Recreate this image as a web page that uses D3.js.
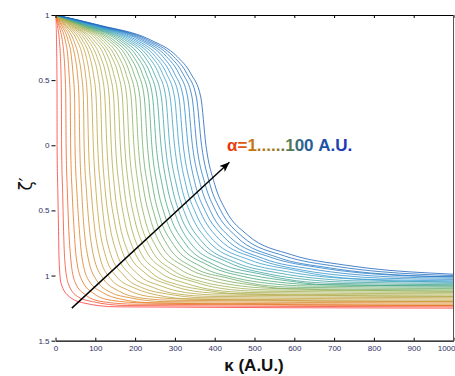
<!DOCTYPE html>
<html><head><meta charset="utf-8">
<script src="https://cdn.jsdelivr.net/npm/d3@7"></script>
<style>html,body{margin:0;padding:0;background:#fff;overflow:hidden}</style>
</head><body><svg id="c" width="455" height="376"></svg>
<script>
// ---- data ----
const alphas = [1,4,7,10,13,16,19,22,25,28,31,34,37,40,43,46,49,52,55,58,61,64,67,70,73,76,79,82,85,88,91,94,97,100];
// zeta levels along the upper (knee + drop) part of every curve
const topZeta = [1, 0.92, 0.81, 0.68, 0.55, 0.37, 0];
// kappa where each curve reaches the topZeta levels
const topKappa = [
 [0,1.2,2.5,3.2,3.6,3.9,4],[0,4.6,9.6,12.4,13.8,14.8,15.3],[0,8,16.8,21.6,24,25.8,26.7],[0,11.4,24,31,34,37,38],
 [0,15,31,40,44,48,49],[0,18,38,49,55,59,61],[0,22,45,58,65,70,72],[0,25,53,68,75,80,83],
 [0,28,60,77,85,91,95],[0,32,67,86,95,102,106],[0,35,74,95,106,113,117],[0,39,81,104,116,124,129],
 [0,42,88,113,126,135,140],[0,45,95,123,136,146,151],[0,49,103,132,146,157,163],[0,52,110,141,157,168,174],
 [0,56,117,150,167,179,185],[0,59,124,159,177,190,197],[0,62,131,169,187,201,208],[0,66,138,178,197,212,219],
 [0,69,145,187,208,223,231],[0,73,153,196,218,234,242],[0,76,160,205,228,244,253],[0,79,167,214,238,255,265],
 [0,83,174,224,248,266,276],[0,86,181,233,259,277,287],[0,90,188,242,269,288,299],[0,93,195,251,279,299,310],
 [0,96,202,260,289,310,321],[0,100,210,270,299,321,333],[0,103,217,279,310,332,344],[0,107,224,288,320,343,355],
 [0,110,231,297,330,354,367],[0,113,238,306,340,365,378]
];
// lower part (bend + tail): kappa / zeta pairs per curve
const tailKappa = [
 [6,7.5,9,14,34,70,154,1000],[18,20,23,32,55,93,178,1000],[30,33,38,49,76,117,202,1000],[42,46,52,67,97,140,225,1000],
 [54,59,66,84,118,163,249,1000],[66,71,81,102,139,186,273,1000],[78,84,95,119,160,210,297,1000],[90,97,110,137,181,233,320,1000],
 [102,109,124,154,202,256,344,1000],[114,122,138,172,223,279,368,1000],[125,135,153,190,244,303,392,1000],[137,148,167,207,265,326,415,1000],
 [149,160,181,225,286,349,439,1000],[161,173,196,242,307,373,463,1000],[173,186,210,260,328,396,487,1000],[185,199,224,277,350,419,510,1000],
 [197,211,239,295,371,442,534,1000],[209,224,253,312,392,466,558,1000],[221,237,268,330,413,489,582,1000],[233,250,282,348,434,512,605,1000],
 [245,262,296,365,455,535,629,1000],[257,275,311,383,476,559,653,1000],[269,288,325,400,497,582,677,1000],[281,301,339,418,518,605,700,1000],
 [293,313,354,435,539,629,724,1000],[305,326,368,453,560,652,748,1000],[316,339,382,470,581,675,772,1000],[328,352,397,488,602,698,795,1000],
 [340,364,411,505,623,722,819,1000],[352,377,425,523,644,745,843,1000],[364,390,440,541,665,768,867,1000],[376,402,454,558,686,791,890,1000],
 [388,415,469,576,707,815,914,1000],[400,428,483,593,728,838,938,1000]
];
const tailZeta = [
 [-0.38,-0.63,-0.88,-1.06,-1.16,-1.21,-1.24,-1.25],[-0.37,-0.62,-0.87,-1.06,-1.16,-1.20,-1.23,-1.24],
 [-0.37,-0.62,-0.86,-1.05,-1.15,-1.20,-1.22,-1.23],[-0.37,-0.61,-0.86,-1.04,-1.14,-1.19,-1.21,-1.23],
 [-0.37,-0.61,-0.85,-1.04,-1.13,-1.18,-1.21,-1.22],[-0.36,-0.61,-0.85,-1.03,-1.13,-1.17,-1.20,-1.21],
 [-0.36,-0.60,-0.84,-1.02,-1.12,-1.17,-1.19,-1.20],[-0.36,-0.60,-0.84,-1.02,-1.11,-1.16,-1.18,-1.20],
 [-0.36,-0.59,-0.83,-1.01,-1.10,-1.15,-1.18,-1.19],[-0.35,-0.59,-0.83,-1.00,-1.10,-1.14,-1.17,-1.18],
 [-0.35,-0.59,-0.82,-1.00,-1.09,-1.14,-1.16,-1.17],[-0.35,-0.58,-0.81,-0.99,-1.08,-1.13,-1.15,-1.16],
 [-0.35,-0.58,-0.81,-0.98,-1.07,-1.12,-1.14,-1.16],[-0.34,-0.57,-0.80,-0.98,-1.07,-1.11,-1.14,-1.15],
 [-0.34,-0.57,-0.80,-0.97,-1.06,-1.11,-1.13,-1.14],[-0.34,-0.57,-0.79,-0.96,-1.05,-1.10,-1.12,-1.13],
 [-0.34,-0.56,-0.79,-0.96,-1.05,-1.09,-1.11,-1.12],[-0.33,-0.56,-0.78,-0.95,-1.04,-1.08,-1.10,-1.12],
 [-0.33,-0.55,-0.78,-0.94,-1.03,-1.07,-1.10,-1.11],[-0.33,-0.55,-0.77,-0.94,-1.02,-1.07,-1.09,-1.10],
 [-0.33,-0.55,-0.76,-0.93,-1.02,-1.06,-1.08,-1.09],[-0.33,-0.54,-0.76,-0.92,-1.01,-1.05,-1.07,-1.08],
 [-0.32,-0.54,-0.75,-0.92,-1.00,-1.04,-1.07,-1.08],[-0.32,-0.53,-0.75,-0.91,-0.99,-1.04,-1.06,-1.07],
 [-0.32,-0.53,-0.74,-0.90,-0.99,-1.03,-1.05,-1.06],[-0.32,-0.53,-0.74,-0.90,-0.98,-1.02,-1.04,-1.05],
 [-0.31,-0.52,-0.73,-0.89,-0.97,-1.01,-1.03,-1.05],[-0.31,-0.52,-0.73,-0.88,-0.96,-1.01,-1.03,-1.04],
 [-0.31,-0.51,-0.72,-0.87,-0.96,-1.00,-1.02,-1.03],[-0.31,-0.51,-0.71,-0.87,-0.95,-0.99,-1.01,-1.02],
 [-0.30,-0.51,-0.71,-0.86,-0.94,-0.98,-1.00,-1.01],[-0.30,-0.50,-0.70,-0.86,-0.94,-0.98,-1.00,-1.01],
 [-0.30,-0.50,-0.70,-0.85,-0.93,-0.97,-0.99,-1.00],[-0.30,-0.50,-0.69,-0.84,-0.92,-0.96,-0.98,-0.99]
];
const xTicks = [0,100,200,300,400,500,600,700,800,900,1000];
const xTickLabels = ["0","100","200","300","400","500","600","700","800","900","1000"];
const yTicks = [1,0.5,0,-0.5,-1,-1.5];
const yTickLabels = ["1","0.5","0","0.5","1","1.5"];
const arrowKappa = [41, 437];
const arrowZeta = [-1.25, -0.13];
const colorStops = ["#ff3a3a","#e5761f","#c4a23e","#9cb256","#4aa87e","#3a9ed2","#1f66bc"];
const colorAlpha = [1, 10, 25, 50, 65, 82, 100];

// ---- drawing ----
const svg = d3.select("#c");
const x = d3.scaleLinear().domain([0,1000]).range([55.5,453.5]);
const y = d3.scaleLinear().domain([-1.5,1]).range([340.7,15]);
const color = d3.scaleLinear().domain(colorAlpha).range(colorStops).interpolate(d3.interpolateRgb);

const defs = svg.append("defs");
defs.append("clipPath").attr("id","plot").append("rect")
  .attr("x",x(0)).attr("y",y(1)).attr("width",x(1000)-x(0)).attr("height",y(-1.5)-y(1));
const g = defs.append("linearGradient").attr("id","txtgrad").attr("gradientUnits","userSpaceOnUse")
  .attr("x1",227).attr("x2",357).attr("y1",0).attr("y2",0);
[[0,"#f0280c"],[0.12,"#dc5a14"],[0.2,"#c27818"],[0.36,"#9a7a22"],[0.5,"#4f7a58"],[0.6,"#2a6094"],[0.78,"#1f4ea8"],[1,"#2424c4"]]
  .forEach(s=>g.append("stop").attr("offset",s[0]).attr("stop-color",s[1]));
defs.append("marker").attr("id","ah").attr("markerUnits","userSpaceOnUse")
  .attr("markerWidth",11).attr("markerHeight",8).attr("refX",10).attr("refY",4).attr("orient","auto")
  .append("path").attr("d","M0,0 L10,4 L0,8 L2.5,4 z").attr("fill","#000");

const line = d3.line().x(d=>x(d[0])).y(d=>y(d[1])).curve(d3.curveMonotoneX);
const curves = alphas.map((a,i)=>{
  const pts = topKappa[i].map((k,j)=>[k, topZeta[j]]);
  tailKappa[i].forEach((k,j)=>pts.push([k, tailZeta[i][j]]));
  return {a, pts};
});
svg.append("g").attr("clip-path","url(#plot)")
  .selectAll("path").data(curves).join("path")
  .attr("d",d=>line(d.pts)).attr("fill","none")
  .attr("stroke",d=>color(d.a)).attr("stroke-width",0.9).attr("stroke-opacity",0.9);

// axes
const tickColor = "#2e2e66";
const bx = svg.append("g").attr("transform",`translate(0,${y(-1.5)})`)
  .call(d3.axisBottom(x).tickValues(xTicks).tickSize(-3).tickSizeOuter(0).tickPadding(5)
    .tickFormat((d,i)=>xTickLabels[i]));
const tx = svg.append("g").attr("transform",`translate(0,${y(1)})`)
  .call(d3.axisTop(x).tickValues(xTicks).tickSize(-3).tickSizeOuter(0).tickFormat(""));
const ly = svg.append("g").attr("transform",`translate(${x(0)},0)`)
  .call(d3.axisLeft(y).tickValues(yTicks).tickSize(4).tickPadding(2).tickFormat((d,i)=>yTickLabels[i]));
ly.select(".domain").remove();
[bx,tx,ly].forEach(a=>{
  a.selectAll("text").attr("font-family","'Liberation Sans',Arial,sans-serif").attr("font-size",8).attr("fill",tickColor);
  a.selectAll("line").attr("stroke","#000");
  a.select(".domain").attr("stroke","#000").attr("stroke-width",1.2);
});
// keep the last x label inside the window
bx.selectAll(".tick").filter(d=>d===1000).select("text").attr("text-anchor","end").attr("x",1.5);
svg.append("line").attr("x1",x(1000)).attr("x2",x(1000)).attr("y1",y(1)).attr("y2",y(-1.5))
  .attr("stroke","#555").attr("stroke-width",1);

// arrow
svg.append("line")
  .attr("x1",x(arrowKappa[0])).attr("y1",y(arrowZeta[0]))
  .attr("x2",x(arrowKappa[1])).attr("y2",y(arrowZeta[1]))
  .attr("stroke","#000").attr("stroke-width",1.4).attr("marker-end","url(#ah)");

// annotation
svg.append("text").attr("x",227).attr("y",150.5)
  .attr("font-family","'Liberation Sans',Arial,sans-serif").attr("font-weight","bold").attr("font-size",17)
  .attr("fill","url(#txtgrad)").text("α=1......100 A.U.");

// axis titles
svg.append("text").attr("x",254).attr("y",371).attr("text-anchor","middle")
  .attr("font-family","'Liberation Sans',Arial,sans-serif").attr("font-weight","bold").attr("font-size",17)
  .attr("fill","#111").text("κ (A.U.)");
svg.append("text").attr("transform","translate(32,184) rotate(-90)").attr("text-anchor","middle")
  .attr("font-family","'DejaVu Sans',sans-serif").attr("font-size",17)
  .attr("fill","#111").text("ζ′");
</script></body></html>
